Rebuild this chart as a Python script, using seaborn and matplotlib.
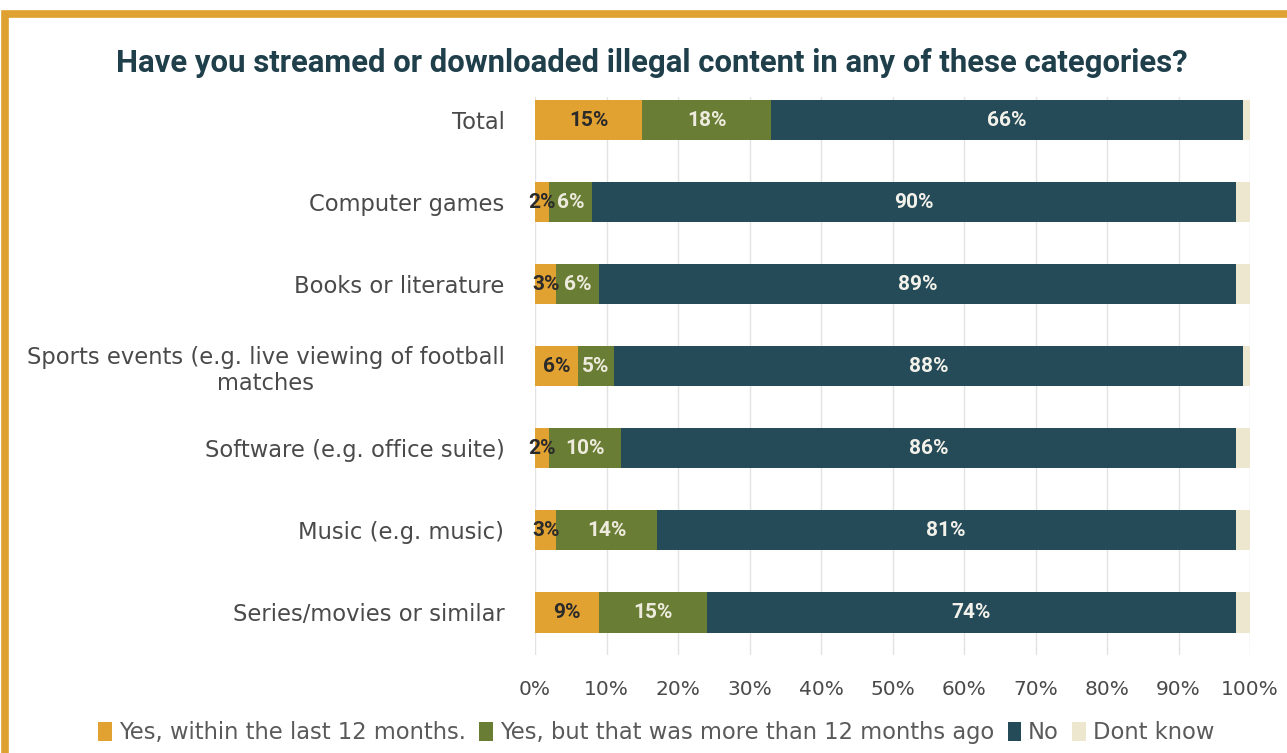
import matplotlib
matplotlib.use("Agg")
import matplotlib.pyplot as plt
from matplotlib.patches import Patch, Rectangle
import numpy as np
import pandas as pd
import seaborn as sns

# Survey answers per content category (percent of respondents)
categories = [
    "Total",
    "Computer games",
    "Books or literature",
    "Sports events (e.g. live viewing of football\nmatches",
    "Software (e.g. office suite)",
    "Music (e.g. music)",
    "Series/movies or similar",
]
yes_recent = [15, 2, 3, 6, 2, 3, 9]
yes_older = [18, 6, 6, 5, 10, 14, 15]
no_answer = [66, 90, 89, 88, 86, 81, 74]
dont_know = [1, 2, 2, 1, 2, 2, 2]

series_names = [
    "Yes, within the last 12 months.",
    "Yes, but that was more than 12 months ago",
    "No",
    "Dont know",
]
colors = ["#E2A232", "#6A7D34", "#254A58", "#EDE7CF"]
label_colors = ["#2A2A2A", "#EDEBDD", "#F2F1EA", None]
tick_values = list(range(0, 101, 10))

sns.set_theme(style="white")
plt.rcParams["font.family"] = ["DejaVu Sans"]

df = pd.DataFrame({
    "category": categories,
    "s0": yes_recent,
    "s1": yes_older,
    "s2": no_answer,
    "s3": dont_know,
})
parts = ["s0", "s1", "s2", "s3"]
cum = df[parts].cumsum(axis=1)

fig = plt.figure(figsize=(12.87, 7.53), dpi=100)
ax = fig.add_axes([0.4157, 0.130, 0.5556, 0.741])

# Stacked bars: draw cumulative totals from widest to narrowest
for i in reversed(range(4)):
    sns.barplot(data=cum.assign(category=df["category"]), x=parts[i], y="category",
                orient="h", color=colors[i], width=0.49, saturation=1,
                edgecolor="none", linewidth=0, ax=ax, zorder=3)

# Value labels centred in each segment
for i in range(3):
    starts = cum[parts[i]] - df[parts[i]]
    for j, (s, v) in enumerate(zip(starts, df[parts[i]])):
        ax.text(s + v / 2, j, f"{v}%", ha="center", va="center",
                fontsize=15, fontweight="bold", family="Roboto",
                color=label_colors[i], zorder=5)

ax.set_xlim(0, 100)
ax.set_ylim(6.52, -0.28)
ax.set_xticks(tick_values)
ax.set_xticklabels([f"{t}%" for t in tick_values], fontsize=14.5, color="#4A4A4A")
ax.set_xlabel("")
ax.set_ylabel("")
ax.tick_params(axis="x", length=0, pad=18)
ax.tick_params(axis="y", length=0, pad=22)
for lab in ax.get_yticklabels():
    lab.set_fontsize(16.3)
    lab.set_color("#4A4A4A")
    lab.set_multialignment("center")
ax.grid(axis="x", color="#E2E2E2", linewidth=1.0, zorder=0)
ax.grid(axis="y", visible=False)
for sp in ax.spines.values():
    sp.set_visible(False)

fig.text(0.5066, 0.916,
         "Have you streamed or downloaded illegal content in any of these categories?",
         ha="center", va="center", fontsize=22.4, fontweight="bold",
         family="Roboto", color="#1F3F4B")

handles = [Patch(facecolor=c, edgecolor="none") for c in colors]
fig.legend(handles, series_names, loc="center", bbox_to_anchor=(0.51, 0.027),
           ncol=4, frameon=False, fontsize=16.3, handlelength=0.6, handleheight=0.9,
           handletextpad=0.3, columnspacing=0.6, labelcolor="#5A5A5A")

# Golden frame around the figure
fig.patches.append(Rectangle((0.0039, -0.05), 1.1, 1.0314, transform=fig.transFigure,
                             fill=False, edgecolor="#DFA232", linewidth=5.5))

fig.savefig("out.png", dpi=100)
